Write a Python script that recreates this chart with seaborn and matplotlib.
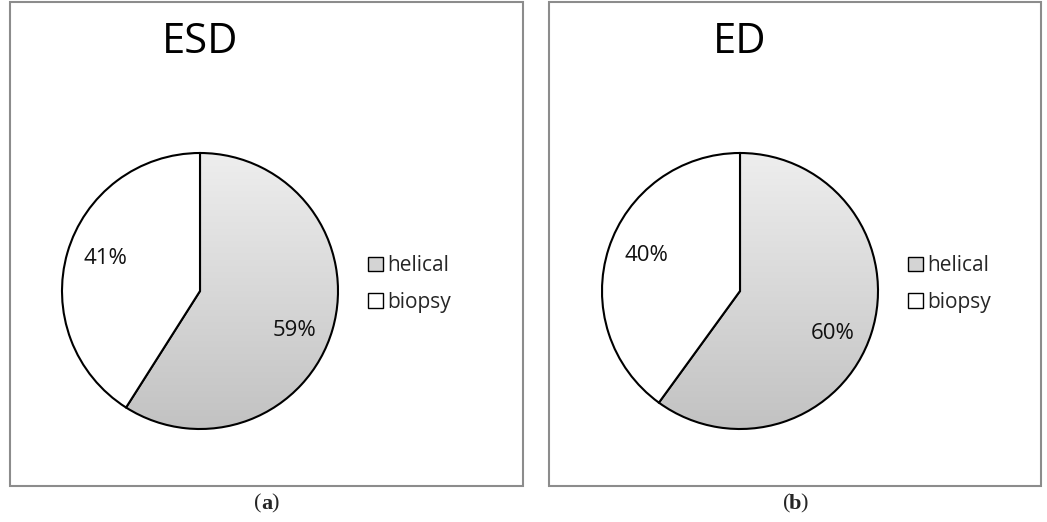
import numpy as np
import matplotlib
matplotlib.use("Agg")
import matplotlib.pyplot as plt
from matplotlib.patches import Patch, Rectangle
from matplotlib.colors import LinearSegmentedColormap
import seaborn as sns

# data
titles = ['ESD', 'ED']
captions = ['a', 'b']
labels = ['helical', 'biopsy']
esd_values = [59, 41]
ed_values = [60, 40]

sns.set_theme(style='white')
plt.rcParams['font.family'] = ['Open Sans', 'DejaVu Sans']

fig = plt.figure(figsize=(10.47, 5.22), dpi=100)
W, H = 1047.0, 522.0

def fx(px):
	return px / W

def fy(py):
	return 1 - py / H

grad_cmap = LinearSegmentedColormap.from_list('g', ['#c2c2c2', '#eeeeee'])

# panel frames (pixel coords: left, top, right, bottom)
frames = [(10, 2, 523, 486), (549, 2, 1041, 486)]
centres = [(200, 291), (740, 291)]
radius = 138

for k, vals in enumerate([esd_values, ed_values]):
	l, t, r, b = frames[k]
	fig.add_artist(Rectangle((fx(l), fy(b)), fx(r) - fx(l), fy(t) - fy(b),
		transform=fig.transFigure, fill=False, edgecolor='#8c8c8c', lw=1.5))

	cx, cy = centres[k]
	ax = fig.add_axes([fx(cx - radius), fy(cy + radius), 2 * radius / W, 2 * radius / H])
	wedges, texts, autotexts = ax.pie(vals, startangle=90, counterclock=False,
		colors=['none', 'white'], autopct='%1.0f%%', pctdistance=0.71,
		wedgeprops=dict(edgecolor='black', linewidth=1.5),
		textprops=dict(fontsize=16, color='#111111'))
	for w in wedges:
		w.set_clip_on(False)
	# Excel puts the helical label a bit lower, the biopsy label a bit higher
	x0, y0 = autotexts[0].get_position()
	autotexts[0].set_position((x0, y0 - 0.09))
	x1, y1 = autotexts[1].get_position()
	autotexts[1].set_position((x1, y1 + 0.04))
	grad = np.linspace(0, 1, 256).reshape(-1, 1)
	im = ax.imshow(grad, extent=[-1, 1, -1, 1], origin='lower', cmap=grad_cmap,
		aspect='auto', zorder=0)
	im.set_clip_path(wedges[0])
	ax.set_xlim(-1, 1)
	ax.set_ylim(-1, 1)
	ax.axis('off')

	# title above the pie
	fig.text(fx(cx), fy(42), titles[k], fontsize=30, ha='center', va='center', color='black')

	# legend
	handles = [Patch(facecolor='#d4d4d4', edgecolor='black', lw=1.0),
		Patch(facecolor='white', edgecolor='black', lw=1.0)]
	fig.legend(handles, labels, loc='center left', bbox_to_anchor=(fx(cx + 158), fy(284)),
		frameon=False, fontsize=15, handlelength=0.7, handleheight=0.7,
		handletextpad=0.2, labelspacing=0.75, borderpad=0)

	# caption (x)
	capx = (l + r) / 2
	fig.text(fx(capx), fy(504), captions[k], fontsize=16, fontweight='bold',
		family='Liberation Serif', ha='center', va='center')
	fig.text(fx(capx - 5), fy(504), '(', fontsize=16, family='Liberation Serif', ha='right', va='center')
	fig.text(fx(capx + 5), fy(504), ')', fontsize=16, family='Liberation Serif', ha='left', va='center')

plt.savefig('out.png', dpi=100)
